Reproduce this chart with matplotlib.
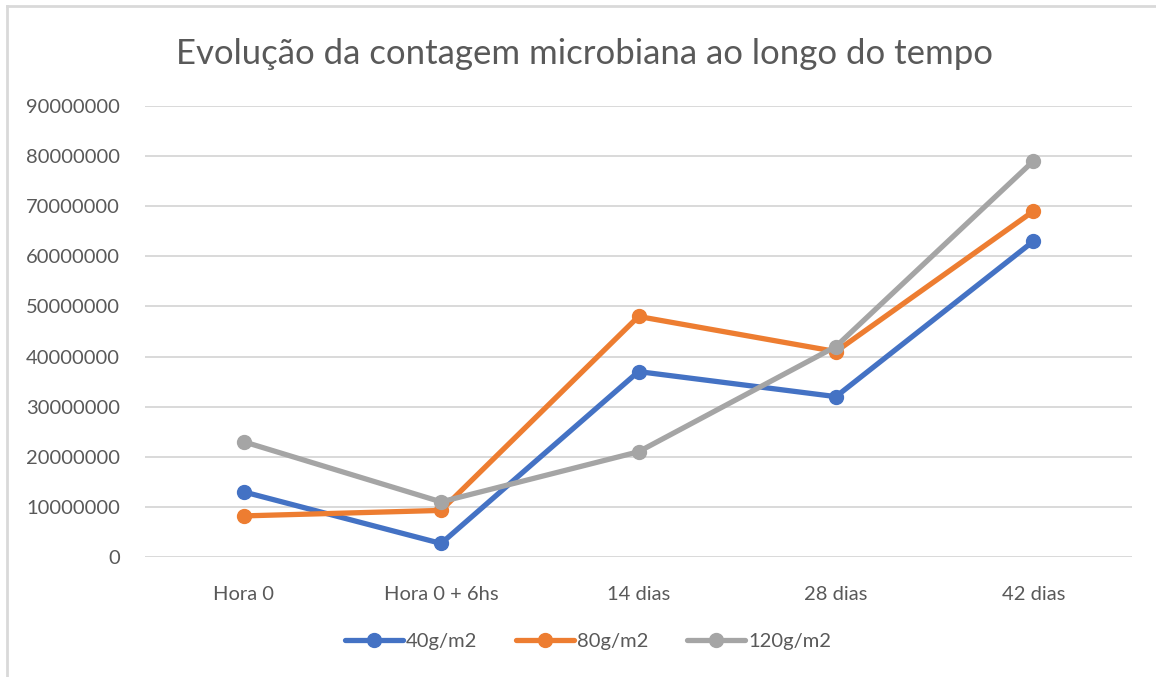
import matplotlib
matplotlib.use("Agg")
import matplotlib.pyplot as plt
from matplotlib.lines import Line2D

categories = ["Hora 0", "Hora 0 + 6hs", "14 dias", "28 dias", "42 dias"]
s40 = [13000000, 2700000, 37000000, 32000000, 63000000]
s80 = [8200000, 9300000, 48000000, 41000000, 69000000]
s120 = [23000000, 11000000, 21000000, 42000000, 79000000]
series_names = ["40g/m2", "80g/m2", "120g/m2"]
colors = ["#4472C4", "#ED7D31", "#A5A5A5"]
yticks = list(range(0, 90000001, 10000000))

plt.rcParams['font.family'] = ['Lato', 'DejaVu Sans']
txt = "#595959"

fig = plt.figure(figsize=(11.56, 6.77), dpi=100)
ax = fig.add_axes([145/1156, 1 - 557/677, (1132 - 145)/1156, (557 - 106)/677])

x = list(range(len(categories)))
for vals, name, c in zip([s40, s80, s120], series_names, colors):
    ax.plot(x, vals, color=c, lw=3.8, marker="o", ms=10, label=name,
            solid_capstyle="round", solid_joinstyle="round")

ax.set_xlim(-0.5, 4.5)
ax.set_ylim(0, 90000000)
ax.set_yticks(yticks)
ax.set_yticklabels([str(v) for v in yticks])
ax.set_xticks(x)
ax.set_xticklabels(categories)
ax.grid(axis="y", color="#D9D9D9", lw=1.4)
ax.set_axisbelow(True)
for s in ax.spines.values():
    s.set_visible(False)
ax.tick_params(length=0, colors=txt, labelsize=14.5)
ax.tick_params(axis="y", pad=18)
ax.tick_params(axis="x", pad=21)

fig.text(0.5 * (178 + 990) / 1156, 1 - 54 / 677, "Evolução da contagem microbiana ao longo do tempo",
         ha="center", va="center", fontsize=25, color=txt)

leg = fig.legend(loc="center", bbox_to_anchor=(588 / 1156, 1 - 641 / 677), ncol=3, frameon=False,
                 fontsize=14.5, handlelength=2.9, handletextpad=0.15, columnspacing=1.9,
                 labelcolor=txt)

fig.add_artist(Line2D([7/1156, 7/1156], [0, 1 - 6/677], color="#D9D9D9", lw=2))
fig.add_artist(Line2D([7/1156, 1], [1 - 6/677, 1 - 6/677], color="#D9D9D9", lw=2))

fig.savefig("out.png", dpi=100, facecolor="white")
